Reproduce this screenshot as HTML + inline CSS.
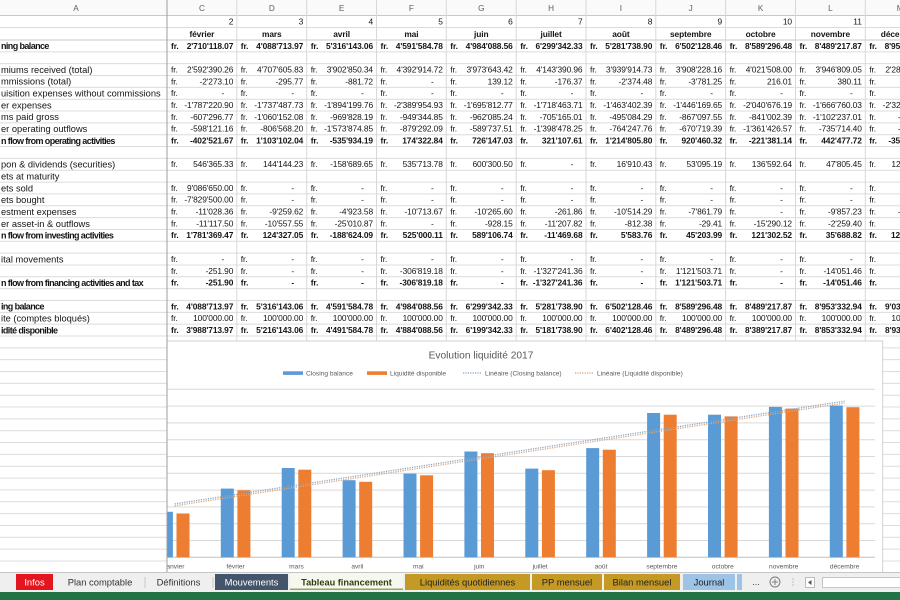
<!DOCTYPE html>
<html><head><meta charset="utf-8"><style>
html,body{margin:0;padding:0;background:#fff;width:900px;height:600px;overflow:hidden}
svg{display:block}
text{font-family:"Liberation Sans",Arial,sans-serif;fill:#141414}
.c text{font-size:8.4px;letter-spacing:-0.1px}
.n{text-anchor:end}
.d{text-anchor:middle}
.b text,.b{font-weight:bold}
.lab{font-size:9.3px}
.lb{font-size:9px;font-weight:bold;letter-spacing:-0.6px}
.hd{font-size:8.2px;fill:#606060;text-anchor:middle}
.ch text{fill:#595959}
.tab{font-size:9.4px;text-anchor:middle}
</style></head><body>
<svg width="900" height="600" viewBox="0 0 900 600" xmlns="http://www.w3.org/2000/svg">
<rect width="900" height="600" fill="#fff"/>
<rect x="0" y="0" width="900" height="15" fill="#fafafa"/>
<g stroke="#dcdcdc" stroke-width="1">
<line x1="0" y1="15.5" x2="900" y2="15.5" stroke="#c8c8c8"/>
<line x1="0" y1="27.5" x2="900" y2="27.5"/>
<line x1="0" y1="40" x2="900" y2="40" stroke="#c8c8c8"/>
<line x1="0" y1="51.84" x2="900" y2="51.84"/><line x1="0" y1="63.68" x2="900" y2="63.68"/><line x1="0" y1="75.52" x2="900" y2="75.52"/><line x1="0" y1="87.36" x2="900" y2="87.36"/><line x1="0" y1="99.2" x2="900" y2="99.2"/><line x1="0" y1="111.04" x2="900" y2="111.04"/><line x1="0" y1="122.88" x2="900" y2="122.88"/><line x1="0" y1="134.72" x2="900" y2="134.72"/><line x1="0" y1="146.56" x2="900" y2="146.56"/><line x1="0" y1="158.4" x2="900" y2="158.4"/><line x1="0" y1="170.24" x2="900" y2="170.24"/><line x1="0" y1="182.08" x2="900" y2="182.08"/><line x1="0" y1="193.92" x2="900" y2="193.92"/><line x1="0" y1="205.76" x2="900" y2="205.76"/><line x1="0" y1="217.6" x2="900" y2="217.6"/><line x1="0" y1="229.44" x2="900" y2="229.44"/><line x1="0" y1="241.28" x2="900" y2="241.28"/><line x1="0" y1="253.12" x2="900" y2="253.12"/><line x1="0" y1="264.96" x2="900" y2="264.96"/><line x1="0" y1="276.8" x2="900" y2="276.8"/><line x1="0" y1="288.64" x2="900" y2="288.64"/><line x1="0" y1="300.48" x2="900" y2="300.48"/><line x1="0" y1="312.32" x2="900" y2="312.32"/><line x1="0" y1="324.16" x2="900" y2="324.16"/><line x1="0" y1="336" x2="900" y2="336"/><line x1="0" y1="347.84" x2="900" y2="347.84"/><line x1="0" y1="359.68" x2="900" y2="359.68"/><line x1="0" y1="371.52" x2="900" y2="371.52"/><line x1="0" y1="383.36" x2="900" y2="383.36"/><line x1="0" y1="395.2" x2="900" y2="395.2"/><line x1="0" y1="407.04" x2="900" y2="407.04"/><line x1="0" y1="418.88" x2="900" y2="418.88"/><line x1="0" y1="430.72" x2="900" y2="430.72"/><line x1="0" y1="442.56" x2="900" y2="442.56"/><line x1="0" y1="454.4" x2="900" y2="454.4"/><line x1="0" y1="466.24" x2="900" y2="466.24"/><line x1="0" y1="478.08" x2="900" y2="478.08"/><line x1="0" y1="489.92" x2="900" y2="489.92"/><line x1="0" y1="501.76" x2="900" y2="501.76"/><line x1="0" y1="513.6" x2="900" y2="513.6"/><line x1="0" y1="525.44" x2="900" y2="525.44"/><line x1="0" y1="537.28" x2="900" y2="537.28"/><line x1="0" y1="549.12" x2="900" y2="549.12"/><line x1="0" y1="560.96" x2="900" y2="560.96"/>
</g>
<g stroke="#d8d8d8" stroke-width="1">
<line x1="236.8" y1="0" x2="236.8" y2="572"/><line x1="306.7" y1="0" x2="306.7" y2="572"/><line x1="376.5" y1="0" x2="376.5" y2="572"/><line x1="446.3" y1="0" x2="446.3" y2="572"/><line x1="516.2" y1="0" x2="516.2" y2="572"/><line x1="586" y1="0" x2="586" y2="572"/><line x1="655.8" y1="0" x2="655.8" y2="572"/><line x1="725.6" y1="0" x2="725.6" y2="572"/><line x1="795.5" y1="0" x2="795.5" y2="572"/><line x1="865.3" y1="0" x2="865.3" y2="572"/>
</g>
<line x1="167" y1="0" x2="167" y2="572" stroke="#9c9c9c" stroke-width="1"/>
<g class="hd">
<text class="hd" x="76" y="11">A</text><text class="hd" x="201.9" y="11">C</text><text class="hd" x="271.8" y="11">D</text><text class="hd" x="341.6" y="11">E</text><text class="hd" x="411.4" y="11">F</text><text class="hd" x="481.3" y="11">G</text><text class="hd" x="551.1" y="11">H</text><text class="hd" x="620.9" y="11">I</text><text class="hd" x="690.7" y="11">J</text><text class="hd" x="760.6" y="11">K</text><text class="hd" x="830.4" y="11">L</text><text class="hd" x="900.2" y="11">M</text>
</g>
<g class="c">
<g transform="translate(0,24.6)">
<text class="n" x="233.3">2</text><text class="n" x="303.2">3</text><text class="n" x="373">4</text><text class="n" x="442.8">5</text><text class="n" x="512.7">6</text><text class="n" x="582.5">7</text><text class="n" x="652.3">8</text><text class="n" x="722.1">9</text><text class="n" x="792">10</text><text class="n" x="861.8">11</text><text class="n" x="931.6">12</text>
</g>
<g transform="translate(0,37)" class="b">
<text class="d" x="201.9">février</text><text class="d" x="271.8">mars</text><text class="d" x="341.6">avril</text><text class="d" x="411.4">mai</text><text class="d" x="481.3">juin</text><text class="d" x="551.1">juillet</text><text class="d" x="620.9">août</text><text class="d" x="690.7">septembre</text><text class="d" x="760.6">octobre</text><text class="d" x="830.4">novembre</text><text class="d" x="900.2">décembre</text>
</g>
</g>
<g>
<text class="lb" x="1" y="49.2">ning balance</text>
<text class="lab" x="1" y="72.9">miums received (total)</text>
<text class="lab" x="1" y="84.7">mmissions (total)</text>
<text class="lab" x="1" y="96.6">uisition expenses without commissions</text>
<text class="lab" x="1" y="108.4">er expenses</text>
<text class="lab" x="1" y="120.2">ms paid gross</text>
<text class="lab" x="1" y="132.1">er operating outflows</text>
<text class="lb" x="1" y="143.9">n flow from operating activities</text>
<text class="lab" x="1" y="167.6">pon &amp; dividends (securities)</text>
<text class="lab" x="1" y="179.4">ets at maturity</text>
<text class="lab" x="1" y="191.3">ets sold</text>
<text class="lab" x="1" y="203.1">ets bought</text>
<text class="lab" x="1" y="215">estment expenses</text>
<text class="lab" x="1" y="226.8">er asset-in &amp; outflows</text>
<text class="lb" x="1" y="238.6">n flow from investing activities</text>
<text class="lab" x="1" y="262.3">ital movements</text>
<text class="lb" x="1" y="286">n flow from financing activities and tax</text>
<text class="lb" x="1" y="309.7">ing balance</text>
<text class="lab" x="1" y="321.5">ite (comptes bloqués)</text>
<text class="lb" x="1" y="333.4">idité disponible</text>
</g>
<g class="c">
<g transform="translate(0,48.8)" class="b">
<text x="171">fr.</text><text class="n" x="233.3">2'710'118.07</text>
<text x="240.8">fr.</text><text class="n" x="303.2">4'088'713.97</text>
<text x="310.7">fr.</text><text class="n" x="373">5'316'143.06</text>
<text x="380.5">fr.</text><text class="n" x="442.8">4'591'584.78</text>
<text x="450.3">fr.</text><text class="n" x="512.7">4'984'088.56</text>
<text x="520.2">fr.</text><text class="n" x="582.5">6'299'342.33</text>
<text x="590">fr.</text><text class="n" x="652.3">5'281'738.90</text>
<text x="659.8">fr.</text><text class="n" x="722.1">6'502'128.46</text>
<text x="729.6">fr.</text><text class="n" x="792">8'589'296.48</text>
<text x="799.5">fr.</text><text class="n" x="861.8">8'489'217.87</text>
<text x="869.3">fr.</text><text class="n" x="931.6">8'953'332.94</text>
</g>
<g transform="translate(0,72.5)">
<text x="171">fr.</text><text class="n" x="233.3">2'592'390.26</text>
<text x="240.8">fr.</text><text class="n" x="303.2">4'707'605.83</text>
<text x="310.7">fr.</text><text class="n" x="373">3'902'850.34</text>
<text x="380.5">fr.</text><text class="n" x="442.8">4'392'914.72</text>
<text x="450.3">fr.</text><text class="n" x="512.7">3'973'643.42</text>
<text x="520.2">fr.</text><text class="n" x="582.5">4'143'390.96</text>
<text x="590">fr.</text><text class="n" x="652.3">3'939'914.73</text>
<text x="659.8">fr.</text><text class="n" x="722.1">3'908'228.16</text>
<text x="729.6">fr.</text><text class="n" x="792">4'021'508.00</text>
<text x="799.5">fr.</text><text class="n" x="861.8">3'946'809.05</text>
<text x="869.3">fr.</text><text class="n" x="931.6">2'284'512.30</text>
</g>
<g transform="translate(0,84.3)">
<text x="171">fr.</text><text class="n" x="233.3">-2'273.10</text>
<text x="240.8">fr.</text><text class="n" x="303.2">-295.77</text>
<text x="310.7">fr.</text><text class="n" x="373">-881.72</text>
<text x="380.5">fr.</text><text class="d" x="432.3">-</text>
<text x="450.3">fr.</text><text class="n" x="512.7">139.12</text>
<text x="520.2">fr.</text><text class="n" x="582.5">-176.37</text>
<text x="590">fr.</text><text class="n" x="652.3">-2'374.48</text>
<text x="659.8">fr.</text><text class="n" x="722.1">-3'781.25</text>
<text x="729.6">fr.</text><text class="n" x="792">216.01</text>
<text x="799.5">fr.</text><text class="n" x="861.8">380.11</text>
<text x="869.3">fr.</text><text class="n" x="931.6">120.50</text>
</g>
<g transform="translate(0,96.2)">
<text x="171">fr.</text><text class="d" x="222.8">-</text>
<text x="240.8">fr.</text><text class="d" x="292.7">-</text>
<text x="310.7">fr.</text><text class="d" x="362.5">-</text>
<text x="380.5">fr.</text><text class="d" x="432.3">-</text>
<text x="450.3">fr.</text><text class="d" x="502.2">-</text>
<text x="520.2">fr.</text><text class="d" x="572">-</text>
<text x="590">fr.</text><text class="d" x="641.8">-</text>
<text x="659.8">fr.</text><text class="d" x="711.6">-</text>
<text x="729.6">fr.</text><text class="d" x="781.5">-</text>
<text x="799.5">fr.</text><text class="d" x="851.3">-</text>
<text x="869.3">fr.</text>
</g>
<g transform="translate(0,108)">
<text x="171">fr.</text><text class="n" x="233.3">-1'787'220.90</text>
<text x="240.8">fr.</text><text class="n" x="303.2">-1'737'487.73</text>
<text x="310.7">fr.</text><text class="n" x="373">-1'894'199.76</text>
<text x="380.5">fr.</text><text class="n" x="442.8">-2'389'954.93</text>
<text x="450.3">fr.</text><text class="n" x="512.7">-1'695'812.77</text>
<text x="520.2">fr.</text><text class="n" x="582.5">-1'718'463.71</text>
<text x="590">fr.</text><text class="n" x="652.3">-1'463'402.39</text>
<text x="659.8">fr.</text><text class="n" x="722.1">-1'446'169.65</text>
<text x="729.6">fr.</text><text class="n" x="792">-2'040'676.19</text>
<text x="799.5">fr.</text><text class="n" x="861.8">-1'666'760.03</text>
<text x="869.3">fr.</text><text class="n" x="931.6">-2'325'410.12</text>
</g>
<g transform="translate(0,119.8)">
<text x="171">fr.</text><text class="n" x="233.3">-607'296.77</text>
<text x="240.8">fr.</text><text class="n" x="303.2">-1'060'152.08</text>
<text x="310.7">fr.</text><text class="n" x="373">-969'828.19</text>
<text x="380.5">fr.</text><text class="n" x="442.8">-949'344.85</text>
<text x="450.3">fr.</text><text class="n" x="512.7">-962'085.24</text>
<text x="520.2">fr.</text><text class="n" x="582.5">-705'165.01</text>
<text x="590">fr.</text><text class="n" x="652.3">-495'084.29</text>
<text x="659.8">fr.</text><text class="n" x="722.1">-867'097.55</text>
<text x="729.6">fr.</text><text class="n" x="792">-841'002.39</text>
<text x="799.5">fr.</text><text class="n" x="861.8">-1'102'237.01</text>
<text x="869.3">fr.</text><text class="n" x="931.6">-5'120.00</text>
</g>
<g transform="translate(0,131.7)">
<text x="171">fr.</text><text class="n" x="233.3">-598'121.16</text>
<text x="240.8">fr.</text><text class="n" x="303.2">-806'568.20</text>
<text x="310.7">fr.</text><text class="n" x="373">-1'573'874.85</text>
<text x="380.5">fr.</text><text class="n" x="442.8">-879'292.09</text>
<text x="450.3">fr.</text><text class="n" x="512.7">-589'737.51</text>
<text x="520.2">fr.</text><text class="n" x="582.5">-1'398'478.25</text>
<text x="590">fr.</text><text class="n" x="652.3">-764'247.76</text>
<text x="659.8">fr.</text><text class="n" x="722.1">-670'719.39</text>
<text x="729.6">fr.</text><text class="n" x="792">-1'361'426.57</text>
<text x="799.5">fr.</text><text class="n" x="861.8">-735'714.40</text>
<text x="869.3">fr.</text><text class="n" x="931.6">-8'410.20</text>
</g>
<g transform="translate(0,143.5)" class="b">
<text x="171">fr.</text><text class="n" x="233.3">-402'521.67</text>
<text x="240.8">fr.</text><text class="n" x="303.2">1'103'102.04</text>
<text x="310.7">fr.</text><text class="n" x="373">-535'934.19</text>
<text x="380.5">fr.</text><text class="n" x="442.8">174'322.84</text>
<text x="450.3">fr.</text><text class="n" x="512.7">726'147.03</text>
<text x="520.2">fr.</text><text class="n" x="582.5">321'107.61</text>
<text x="590">fr.</text><text class="n" x="652.3">1'214'805.80</text>
<text x="659.8">fr.</text><text class="n" x="722.1">920'460.32</text>
<text x="729.6">fr.</text><text class="n" x="792">-221'381.14</text>
<text x="799.5">fr.</text><text class="n" x="861.8">442'477.72</text>
<text x="869.3">fr.</text><text class="n" x="931.6">-358'214.60</text>
</g>
<g transform="translate(0,167.2)">
<text x="171">fr.</text><text class="n" x="233.3">546'365.33</text>
<text x="240.8">fr.</text><text class="n" x="303.2">144'144.23</text>
<text x="310.7">fr.</text><text class="n" x="373">-158'689.65</text>
<text x="380.5">fr.</text><text class="n" x="442.8">535'713.78</text>
<text x="450.3">fr.</text><text class="n" x="512.7">600'300.50</text>
<text x="520.2">fr.</text><text class="d" x="572">-</text>
<text x="590">fr.</text><text class="n" x="652.3">16'910.43</text>
<text x="659.8">fr.</text><text class="n" x="722.1">53'095.19</text>
<text x="729.6">fr.</text><text class="n" x="792">136'592.64</text>
<text x="799.5">fr.</text><text class="n" x="861.8">47'805.45</text>
<text x="869.3">fr.</text><text class="n" x="931.6">127'318.40</text>
</g>
<g transform="translate(0,190.9)">
<text x="171">fr.</text><text class="n" x="233.3">9'086'650.00</text>
<text x="240.8">fr.</text><text class="d" x="292.7">-</text>
<text x="310.7">fr.</text><text class="d" x="362.5">-</text>
<text x="380.5">fr.</text><text class="d" x="432.3">-</text>
<text x="450.3">fr.</text><text class="d" x="502.2">-</text>
<text x="520.2">fr.</text><text class="d" x="572">-</text>
<text x="590">fr.</text><text class="d" x="641.8">-</text>
<text x="659.8">fr.</text><text class="d" x="711.6">-</text>
<text x="729.6">fr.</text><text class="d" x="781.5">-</text>
<text x="799.5">fr.</text><text class="d" x="851.3">-</text>
<text x="869.3">fr.</text>
</g>
<g transform="translate(0,202.7)">
<text x="171">fr.</text><text class="n" x="233.3">-7'829'500.00</text>
<text x="240.8">fr.</text><text class="d" x="292.7">-</text>
<text x="310.7">fr.</text><text class="d" x="362.5">-</text>
<text x="380.5">fr.</text><text class="d" x="432.3">-</text>
<text x="450.3">fr.</text><text class="d" x="502.2">-</text>
<text x="520.2">fr.</text><text class="d" x="572">-</text>
<text x="590">fr.</text><text class="d" x="641.8">-</text>
<text x="659.8">fr.</text><text class="d" x="711.6">-</text>
<text x="729.6">fr.</text><text class="d" x="781.5">-</text>
<text x="799.5">fr.</text><text class="d" x="851.3">-</text>
<text x="869.3">fr.</text>
</g>
<g transform="translate(0,214.6)">
<text x="171">fr.</text><text class="n" x="233.3">-11'028.36</text>
<text x="240.8">fr.</text><text class="n" x="303.2">-9'259.62</text>
<text x="310.7">fr.</text><text class="n" x="373">-4'923.58</text>
<text x="380.5">fr.</text><text class="n" x="442.8">-10'713.67</text>
<text x="450.3">fr.</text><text class="n" x="512.7">-10'265.60</text>
<text x="520.2">fr.</text><text class="n" x="582.5">-261.86</text>
<text x="590">fr.</text><text class="n" x="652.3">-10'514.29</text>
<text x="659.8">fr.</text><text class="n" x="722.1">-7'861.79</text>
<text x="729.6">fr.</text><text class="d" x="781.5">-</text>
<text x="799.5">fr.</text><text class="n" x="861.8">-9'857.23</text>
<text x="869.3">fr.</text><text class="n" x="931.6">-5'412.30</text>
</g>
<g transform="translate(0,226.4)">
<text x="171">fr.</text><text class="n" x="233.3">-11'117.50</text>
<text x="240.8">fr.</text><text class="n" x="303.2">-10'557.55</text>
<text x="310.7">fr.</text><text class="n" x="373">-25'010.87</text>
<text x="380.5">fr.</text><text class="d" x="432.3">-</text>
<text x="450.3">fr.</text><text class="n" x="512.7">-928.15</text>
<text x="520.2">fr.</text><text class="n" x="582.5">-11'207.82</text>
<text x="590">fr.</text><text class="n" x="652.3">-812.38</text>
<text x="659.8">fr.</text><text class="n" x="722.1">-29.41</text>
<text x="729.6">fr.</text><text class="n" x="792">-15'290.12</text>
<text x="799.5">fr.</text><text class="n" x="861.8">-2'259.40</text>
<text x="869.3">fr.</text>
</g>
<g transform="translate(0,238.2)" class="b">
<text x="171">fr.</text><text class="n" x="233.3">1'781'369.47</text>
<text x="240.8">fr.</text><text class="n" x="303.2">124'327.05</text>
<text x="310.7">fr.</text><text class="n" x="373">-188'624.09</text>
<text x="380.5">fr.</text><text class="n" x="442.8">525'000.11</text>
<text x="450.3">fr.</text><text class="n" x="512.7">589'106.74</text>
<text x="520.2">fr.</text><text class="n" x="582.5">-11'469.68</text>
<text x="590">fr.</text><text class="n" x="652.3">5'583.76</text>
<text x="659.8">fr.</text><text class="n" x="722.1">45'203.99</text>
<text x="729.6">fr.</text><text class="n" x="792">121'302.52</text>
<text x="799.5">fr.</text><text class="n" x="861.8">35'688.82</text>
<text x="869.3">fr.</text><text class="n" x="931.6">122'906.10</text>
</g>
<g transform="translate(0,261.9)">
<text x="171">fr.</text><text class="d" x="222.8">-</text>
<text x="240.8">fr.</text><text class="d" x="292.7">-</text>
<text x="310.7">fr.</text><text class="d" x="362.5">-</text>
<text x="380.5">fr.</text><text class="d" x="432.3">-</text>
<text x="450.3">fr.</text><text class="d" x="502.2">-</text>
<text x="520.2">fr.</text><text class="d" x="572">-</text>
<text x="590">fr.</text><text class="d" x="641.8">-</text>
<text x="659.8">fr.</text><text class="d" x="711.6">-</text>
<text x="729.6">fr.</text><text class="d" x="781.5">-</text>
<text x="799.5">fr.</text><text class="d" x="851.3">-</text>
<text x="869.3">fr.</text>
</g>
<g transform="translate(0,273.8)">
<text x="171">fr.</text><text class="n" x="233.3">-251.90</text>
<text x="240.8">fr.</text><text class="d" x="292.7">-</text>
<text x="310.7">fr.</text><text class="d" x="362.5">-</text>
<text x="380.5">fr.</text><text class="n" x="442.8">-306'819.18</text>
<text x="450.3">fr.</text><text class="d" x="502.2">-</text>
<text x="520.2">fr.</text><text class="n" x="582.5">-1'327'241.36</text>
<text x="590">fr.</text><text class="d" x="641.8">-</text>
<text x="659.8">fr.</text><text class="n" x="722.1">1'121'503.71</text>
<text x="729.6">fr.</text><text class="d" x="781.5">-</text>
<text x="799.5">fr.</text><text class="n" x="861.8">-14'051.46</text>
<text x="869.3">fr.</text>
</g>
<g transform="translate(0,285.6)" class="b">
<text x="171">fr.</text><text class="n" x="233.3">-251.90</text>
<text x="240.8">fr.</text><text class="d" x="292.7">-</text>
<text x="310.7">fr.</text><text class="d" x="362.5">-</text>
<text x="380.5">fr.</text><text class="n" x="442.8">-306'819.18</text>
<text x="450.3">fr.</text><text class="d" x="502.2">-</text>
<text x="520.2">fr.</text><text class="n" x="582.5">-1'327'241.36</text>
<text x="590">fr.</text><text class="d" x="641.8">-</text>
<text x="659.8">fr.</text><text class="n" x="722.1">1'121'503.71</text>
<text x="729.6">fr.</text><text class="d" x="781.5">-</text>
<text x="799.5">fr.</text><text class="n" x="861.8">-14'051.46</text>
<text x="869.3">fr.</text>
</g>
<g transform="translate(0,309.3)" class="b">
<text x="171">fr.</text><text class="n" x="233.3">4'088'713.97</text>
<text x="240.8">fr.</text><text class="n" x="303.2">5'316'143.06</text>
<text x="310.7">fr.</text><text class="n" x="373">4'591'584.78</text>
<text x="380.5">fr.</text><text class="n" x="442.8">4'984'088.56</text>
<text x="450.3">fr.</text><text class="n" x="512.7">6'299'342.33</text>
<text x="520.2">fr.</text><text class="n" x="582.5">5'281'738.90</text>
<text x="590">fr.</text><text class="n" x="652.3">6'502'128.46</text>
<text x="659.8">fr.</text><text class="n" x="722.1">8'589'296.48</text>
<text x="729.6">fr.</text><text class="n" x="792">8'489'217.87</text>
<text x="799.5">fr.</text><text class="n" x="861.8">8'953'332.94</text>
<text x="869.3">fr.</text><text class="n" x="931.6">9'036'118.00</text>
</g>
<g transform="translate(0,321.1)">
<text x="171">fr.</text><text class="n" x="233.3">100'000.00</text>
<text x="240.8">fr.</text><text class="n" x="303.2">100'000.00</text>
<text x="310.7">fr.</text><text class="n" x="373">100'000.00</text>
<text x="380.5">fr.</text><text class="n" x="442.8">100'000.00</text>
<text x="450.3">fr.</text><text class="n" x="512.7">100'000.00</text>
<text x="520.2">fr.</text><text class="n" x="582.5">100'000.00</text>
<text x="590">fr.</text><text class="n" x="652.3">100'000.00</text>
<text x="659.8">fr.</text><text class="n" x="722.1">100'000.00</text>
<text x="729.6">fr.</text><text class="n" x="792">100'000.00</text>
<text x="799.5">fr.</text><text class="n" x="861.8">100'000.00</text>
<text x="869.3">fr.</text><text class="n" x="931.6">100'000.00</text>
</g>
<g transform="translate(0,333)" class="b">
<text x="171">fr.</text><text class="n" x="233.3">3'988'713.97</text>
<text x="240.8">fr.</text><text class="n" x="303.2">5'216'143.06</text>
<text x="310.7">fr.</text><text class="n" x="373">4'491'584.78</text>
<text x="380.5">fr.</text><text class="n" x="442.8">4'884'088.56</text>
<text x="450.3">fr.</text><text class="n" x="512.7">6'199'342.33</text>
<text x="520.2">fr.</text><text class="n" x="582.5">5'181'738.90</text>
<text x="590">fr.</text><text class="n" x="652.3">6'402'128.46</text>
<text x="659.8">fr.</text><text class="n" x="722.1">8'489'296.48</text>
<text x="729.6">fr.</text><text class="n" x="792">8'389'217.87</text>
<text x="799.5">fr.</text><text class="n" x="861.8">8'853'332.94</text>
<text x="869.3">fr.</text><text class="n" x="931.6">8'936'118.00</text>
</g>
</g>
<defs><clipPath id="cc"><rect x="167.5" y="0" width="740" height="600"/></clipPath></defs>
<g clip-path="url(#cc)" class="ch">
<rect x="100" y="341" width="782.7" height="240" fill="#fff" stroke="#d0d0d0" stroke-width="1"/>
<text x="481" y="358.5" font-size="10.2" text-anchor="middle">Evolution liquidité 2017</text>
<rect x="283" y="371.3" width="20" height="3.6" fill="#5b9bd5"/>
<text x="306" y="375.3" font-size="6.6">Closing balance</text>
<rect x="367" y="371.3" width="20" height="3.6" fill="#ed7d31"/>
<text x="390" y="375.3" font-size="6.6">Liquidité disponible</text>
<line x1="463" y1="373" x2="482" y2="373" stroke="#7f9fbf" stroke-width="1.2" stroke-dasharray="1.2 1.2"/>
<text x="485" y="375.3" font-size="6.6">Linéaire (Closing balance)</text>
<line x1="575" y1="373" x2="593" y2="373" stroke="#d9a070" stroke-width="1.2" stroke-dasharray="1.2 1.2"/>
<text x="597" y="375.3" font-size="6.6">Linéaire (Liquidité disponible)</text>
<g stroke="#d9d9d9" stroke-width="1">
<line x1="100" y1="389.3" x2="875" y2="389.3"/><line x1="100" y1="406.1" x2="875" y2="406.1"/><line x1="100" y1="422.9" x2="875" y2="422.9"/><line x1="100" y1="439.7" x2="875" y2="439.7"/><line x1="100" y1="456.5" x2="875" y2="456.5"/><line x1="100" y1="473.3" x2="875" y2="473.3"/><line x1="100" y1="490.1" x2="875" y2="490.1"/><line x1="100" y1="506.9" x2="875" y2="506.9"/><line x1="100" y1="523.7" x2="875" y2="523.7"/><line x1="100" y1="540.5" x2="875" y2="540.5"/>
</g>
<line x1="100" y1="557.3" x2="875" y2="557.3" stroke="#bfbfbf" stroke-width="1"/>
<g fill="#5b9bd5">
<rect x="159.9" y="511.8" width="13" height="45.5"/>
<rect x="220.8" y="488.6" width="13" height="68.7"/>
<rect x="281.7" y="468.0" width="13" height="89.3"/>
<rect x="342.6" y="480.2" width="13" height="77.1"/>
<rect x="403.5" y="473.6" width="13" height="83.7"/>
<rect x="464.4" y="451.5" width="13" height="105.8"/>
<rect x="525.3" y="468.6" width="13" height="88.7"/>
<rect x="586.2" y="448.1" width="13" height="109.2"/>
<rect x="647.1" y="413.0" width="13" height="144.3"/>
<rect x="708.0" y="414.7" width="13" height="142.6"/>
<rect x="768.9" y="406.9" width="13" height="150.4"/>
<rect x="829.8" y="405.5" width="13" height="151.8"/>
</g>
<g fill="#ed7d31">
<rect x="176.5" y="513.5" width="13" height="43.8"/>
<rect x="237.4" y="490.3" width="13" height="67.0"/>
<rect x="298.3" y="469.7" width="13" height="87.6"/>
<rect x="359.2" y="481.8" width="13" height="75.5"/>
<rect x="420.1" y="475.3" width="13" height="82.0"/>
<rect x="481.0" y="453.2" width="13" height="104.1"/>
<rect x="541.9" y="470.2" width="13" height="87.1"/>
<rect x="602.8" y="449.7" width="13" height="107.6"/>
<rect x="663.7" y="414.7" width="13" height="142.6"/>
<rect x="724.6" y="416.4" width="13" height="140.9"/>
<rect x="785.5" y="408.6" width="13" height="148.7"/>
<rect x="846.4" y="407.2" width="13" height="150.1"/>
</g>
<line x1="174.7" y1="503.9" x2="844.6" y2="401.1" stroke="#8aa5c2" stroke-width="1.3" stroke-dasharray="1.2 1.2"/>
<line x1="174.7" y1="505.8" x2="844.6" y2="403.0" stroke="#d8a77e" stroke-width="1.3" stroke-dasharray="1.2 1.2"/>
<g font-size="6.6" text-anchor="middle">
<text x="174.7" y="568.5">janvier</text><text x="235.6" y="568.5">février</text><text x="296.5" y="568.5">mars</text><text x="357.4" y="568.5">avril</text><text x="418.3" y="568.5">mai</text><text x="479.2" y="568.5">juin</text><text x="540.1" y="568.5">juillet</text><text x="601" y="568.5">août</text><text x="661.9" y="568.5">septembre</text><text x="722.8" y="568.5">octobre</text><text x="783.7" y="568.5">novembre</text><text x="844.6" y="568.5">décembre</text>
</g>
</g>
<rect x="0" y="572" width="900" height="20" fill="#efefef"/>
<line x1="0" y1="572.5" x2="900" y2="572.5" stroke="#c6c6c6"/>
<rect x="16" y="574" width="37" height="16" fill="#e3161f"/>
<text class="tab" x="34.5" y="585.6" style="fill:#fff">Infos</text>
<text class="tab" x="100" y="585.6" style="fill:#333">Plan comptable</text>
<line x1="145" y1="577" x2="145" y2="588" stroke="#c8c8c8"/>
<text class="tab" x="178.5" y="585.6" style="fill:#333">Définitions</text>
<line x1="213" y1="577" x2="213" y2="588" stroke="#c8c8c8"/>
<rect x="215" y="574" width="73" height="16" fill="#44546a"/>
<text class="tab" x="251.5" y="585.6" style="fill:#fff">Mouvements</text>
<rect x="290" y="573" width="113" height="17" fill="#f6f7ee"/>
<rect x="290" y="588.5" width="113" height="1.5" fill="#8faa5a"/>
<text class="tab" x="346.5" y="585.6" style="fill:#2f3d12;font-weight:bold;font-size:9.2px">Tableau financement</text>
<rect x="405" y="574" width="125" height="16" fill="#c49a25"/>
<text class="tab" x="467.5" y="585.6" style="fill:#222">Liquidités quotidiennes</text>
<rect x="532" y="574" width="70" height="16" fill="#c49a25"/>
<text class="tab" x="567" y="585.6" style="fill:#222">PP mensuel</text>
<rect x="604" y="574" width="76" height="16" fill="#c49a25"/>
<text class="tab" x="642" y="585.6" style="fill:#222">Bilan mensuel</text>
<rect x="683" y="574" width="52" height="16" fill="#9dc3e6"/>
<text class="tab" x="709" y="585.6" style="fill:#222">Journal</text>
<rect x="737" y="574" width="5" height="16" fill="#9dc3e6"/>
<text class="tab" x="756" y="585" style="fill:#444">...</text>
<circle cx="775" cy="582" r="5" fill="none" stroke="#777" stroke-width="0.9"/>
<line x1="772" y1="582" x2="778" y2="582" stroke="#777" stroke-width="0.9"/>
<line x1="775" y1="579" x2="775" y2="585" stroke="#777" stroke-width="0.9"/>
<circle cx="793" cy="579" r="0.6" fill="#999"/><circle cx="793" cy="582" r="0.6" fill="#999"/><circle cx="793" cy="585" r="0.6" fill="#999"/>
<rect x="805.5" y="577.5" width="9" height="10" fill="#fff" stroke="#bbb"/>
<path d="M811.5 580 L808 582.5 L811.5 585 Z" fill="#555"/>
<rect x="822.5" y="577.5" width="80" height="10" fill="#fff" stroke="#c6c6c6"/>
<rect x="0" y="592" width="900" height="8" fill="#217346"/>
</svg>
</body></html>
